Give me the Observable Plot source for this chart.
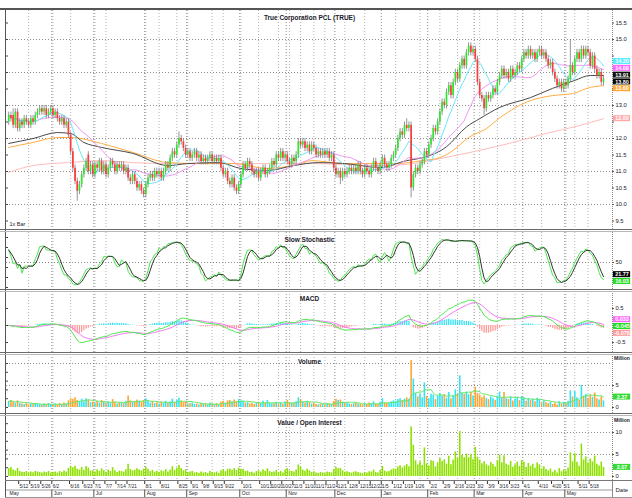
<!DOCTYPE html>
<html><head><meta charset="utf-8">
<script src="https://cdn.jsdelivr.net/npm/d3@7"></script>
<script src="https://cdn.jsdelivr.net/npm/@observablehq/plot@0.6"></script>
<style>
html,body{margin:0;padding:0;background:#fff;}
#chart{position:relative;width:632px;height:498px;overflow:hidden;background:#fff;}
#chart svg{position:absolute;left:0;overflow:visible;}
.ln{position:absolute;}
</style></head><body><div id="chart"></div>
<script>
// ---------- DATA ----------
const title = "True Corporation PCL (TRUE)";
// daily candles [open, high, low, close]
const ohlc = [
[12.5,12.8,12.4,12.7],[12.7,12.8,12.5,12.6],[12.7,12.9,12.3,12.4],[12.4,12.9,12.3,12.8],[12.8,12.9,12.2,12.3],
[12.3,12.6,12.2,12.5],[12.5,12.6,12.3,12.4],[12.4,12.7,12.3,12.6],[12.6,12.7,12.4,12.5],[12.5,12.6,12.3,12.4],
[12.4,12.7,12.3,12.6],[12.6,12.7,12.4,12.5],[12.5,12.8,12.4,12.7],[12.7,12.9,12.6,12.8],[12.8,13.0,12.7,12.9],
[12.9,13.0,12.7,12.8],[12.8,13.0,12.7,12.9],[12.9,13.0,12.6,12.7],[12.7,12.9,12.6,12.8],[12.8,13.0,12.7,12.9],
[12.9,13.0,12.6,12.7],[12.7,12.9,12.6,12.8],[12.8,12.9,12.5,12.6],[12.6,12.7,12.4,12.5],[12.5,12.7,12.4,12.6],
[12.6,12.7,12.3,12.4],[12.4,12.6,12.3,12.5],[12.5,12.6,12.0,12.1],[12.1,12.2,11.5,11.6],[11.6,11.7,11.0,11.1],
[11.1,11.2,10.6,10.7],[10.7,10.8,10.1,10.4],[10.4,10.7,10.3,10.6],[10.6,11.0,10.5,10.9],[10.9,11.2,10.8,11.1],
[11.1,11.4,11.0,11.3],[11.5,11.6,10.9,11.0],[11.0,11.3,10.9,11.2],[11.2,11.3,10.8,10.9],[10.9,11.3,10.8,11.2],
[11.2,11.3,11.0,11.1],[11.1,11.4,11.0,11.3],[11.3,11.4,10.9,11.0],[11.0,11.3,10.9,11.2],[11.2,11.3,10.8,10.9],
[10.9,11.2,10.8,11.1],[11.1,11.4,11.0,11.3],[11.3,11.4,11.1,11.2],[11.2,11.3,10.9,11.0],[11.0,11.3,10.9,11.2],
[11.2,11.3,11.0,11.1],[11.1,11.3,11.0,11.2],[11.2,11.3,10.9,11.0],[11.0,11.2,10.9,11.1],[11.1,11.2,10.7,10.8],
[10.8,10.9,10.6,10.7],[10.7,11.0,10.6,10.9],[10.9,11.0,10.6,10.7],[10.7,10.8,10.4,10.5],[10.5,10.7,10.4,10.6],
[10.6,10.7,10.3,10.4],[10.4,10.5,10.2,10.3],[10.3,10.7,10.2,10.6],[10.6,10.9,10.5,10.8],[10.8,11.0,10.7,10.9],
[10.9,11.0,10.7,10.8],[10.8,11.1,10.7,11.0],[11.0,11.1,10.8,10.9],[10.9,11.1,10.8,11.0],[11.0,11.1,10.7,10.8],
[10.8,11.1,10.7,11.0],[11.0,11.3,10.9,11.2],[11.2,11.3,11.0,11.1],[11.1,11.5,11.0,11.4],[11.4,11.7,11.3,11.6],
[11.6,11.7,11.4,11.5],[11.5,11.9,11.4,11.8],[11.8,12.2,11.7,12.0],[12.0,12.1,11.8,11.9],[11.9,12.0,11.6,11.7],
[11.7,11.8,11.4,11.5],[11.5,11.7,11.4,11.6],[11.6,11.7,11.3,11.4],[11.4,11.6,11.3,11.5],[11.5,11.7,11.4,11.6],
[11.6,11.7,11.3,11.4],[11.4,11.6,11.3,11.5],[11.5,11.6,11.2,11.3],[11.3,11.5,11.2,11.4],[11.4,11.5,11.2,11.3],
[11.3,11.5,11.2,11.4],[11.4,11.6,11.3,11.5],[11.5,11.6,11.2,11.3],[11.3,11.5,11.2,11.4],[11.4,11.5,11.2,11.3],
[11.3,11.5,11.2,11.4],[11.4,11.5,11.0,11.1],[11.1,11.2,10.8,10.9],[10.9,11.1,10.8,11.0],[11.0,11.1,10.6,10.7],
[10.7,10.8,10.5,10.6],[10.6,10.9,10.5,10.8],[10.8,10.9,10.4,10.5],[10.5,10.6,10.3,10.4],[10.4,10.7,10.3,10.6],
[10.6,11.0,10.5,10.9],[10.9,11.3,10.8,11.2],[11.2,11.3,11.0,11.1],[11.1,11.4,11.0,11.3],[11.3,11.4,11.1,11.2],
[11.2,11.3,10.9,11.0],[11.0,11.1,10.8,10.9],[10.9,11.1,10.8,11.0],[11.0,11.1,10.7,10.8],[10.8,11.1,10.7,11.0],
[11.0,11.2,10.9,11.1],[11.1,11.2,10.8,10.9],[10.9,11.1,10.8,11.0],[11.0,11.2,10.9,11.1],[11.1,11.4,11.0,11.3],
[11.3,11.4,11.1,11.2],[11.2,11.6,11.1,11.5],[11.5,11.6,11.3,11.4],[11.4,11.7,11.3,11.6],[11.6,11.7,11.3,11.4],
[11.4,11.6,11.3,11.5],[11.5,11.6,11.2,11.3],[11.3,11.4,11.1,11.2],[11.2,11.5,11.1,11.4],[11.4,11.5,11.2,11.3],
[11.3,11.6,11.2,11.5],[11.5,12.0,11.4,11.9],[11.9,12.0,11.7,11.8],[11.8,12.0,11.7,11.9],[11.9,12.0,11.6,11.7],
[11.7,11.9,11.6,11.8],[11.8,11.9,11.5,11.6],[11.6,11.9,11.5,11.8],[11.8,11.9,11.6,11.7],[11.7,11.8,11.4,11.5],
[11.5,11.7,11.4,11.6],[11.6,11.7,11.4,11.5],[11.5,11.7,11.4,11.6],[11.6,11.7,11.4,11.5],[11.5,11.7,11.4,11.6],
[11.6,11.7,11.3,11.4],[11.4,11.6,11.3,11.5],[11.5,11.6,11.0,11.1],[11.1,11.2,10.8,10.9],[10.9,11.1,10.8,11.0],
[11.0,11.1,10.6,10.8],[10.8,11.1,10.7,11.0],[11.0,11.1,10.8,10.9],[10.9,11.1,10.8,11.0],[11.0,11.2,10.9,11.1],
[11.1,11.2,10.9,11.0],[11.0,11.2,10.9,11.1],[11.1,11.2,10.9,11.0],[11.0,11.3,10.9,11.2],[11.2,11.3,10.9,11.0],
[11.0,11.1,10.8,10.9],[10.9,11.2,10.8,11.1],[11.1,11.2,10.9,11.0],[11.0,11.1,10.8,10.9],[10.9,11.2,10.8,11.1],
[11.1,11.4,11.0,11.3],[11.3,11.4,11.0,11.1],[11.1,11.2,10.9,11.0],[11.0,11.3,10.9,11.2],[11.2,11.5,11.1,11.4],
[11.4,11.5,11.1,11.2],[11.2,11.3,11.0,11.1],[11.1,11.3,11.0,11.2],[11.2,11.5,11.1,11.4],[11.4,11.6,11.3,11.5],
[11.5,11.8,11.4,11.7],[11.7,12.1,11.6,12.0],[12.0,12.3,11.9,12.2],[12.2,12.3,12.0,12.1],[12.1,12.5,12.0,12.4],
[12.4,12.6,12.2,12.3],[12.3,12.5,12.2,12.4],[12.4,12.5,10.2,10.5],[10.5,11.0,10.4,10.9],[10.9,11.2,10.8,11.1],
[11.1,11.2,10.9,11.0],[11.0,11.3,10.9,11.2],[11.2,11.4,11.1,11.3],[11.3,11.7,11.2,11.6],[11.6,11.7,11.4,11.5],
[11.5,11.9,11.4,11.8],[11.8,12.1,11.7,12.0],[12.0,12.4,11.9,12.3],[12.3,12.4,12.1,12.2],[12.2,12.6,12.1,12.5],
[12.5,12.9,12.4,12.8],[12.8,13.2,12.7,13.1],[13.1,13.2,12.9,13.0],[13.0,13.5,12.9,13.4],[13.4,13.7,13.3,13.6],
[13.6,13.7,13.2,13.3],[13.3,13.8,13.2,13.7],[13.7,14.1,13.6,14.0],[14.0,14.1,13.7,13.8],[13.8,14.3,13.7,14.2],
[14.2,14.5,14.1,14.4],[14.4,14.5,14.1,14.2],[14.2,14.7,14.1,14.6],[14.6,14.9,14.5,14.8],[14.8,14.9,14.5,14.6],
[14.6,14.8,14.5,14.7],[14.7,14.8,14.3,14.4],[14.4,14.5,13.6,13.7],[13.7,13.8,13.2,13.3],[13.3,13.4,13.1,13.2],
[13.2,13.3,12.7,12.9],[12.9,13.4,12.8,13.3],[13.3,13.4,13.1,13.2],[13.2,13.4,13.1,13.3],[13.3,13.6,13.2,13.5],
[13.5,13.6,13.3,13.4],[13.4,13.8,13.3,13.7],[13.7,14.0,13.6,13.9],[13.9,14.2,13.8,14.1],[14.1,14.2,13.8,13.9],
[13.9,14.1,13.8,14.0],[14.0,14.1,13.7,13.8],[13.8,14.2,13.7,14.1],[14.1,14.2,13.8,13.9],[13.9,14.1,13.8,14.0],
[14.0,14.3,13.9,14.2],[14.2,14.3,14.0,14.1],[14.1,14.5,14.0,14.4],[14.4,14.7,14.3,14.6],[14.6,14.7,14.4,14.5],
[14.5,14.8,14.4,14.7],[14.7,14.8,14.4,14.5],[14.5,14.7,14.4,14.6],[14.6,14.7,14.3,14.4],[14.4,14.7,14.3,14.6],
[14.6,14.8,14.5,14.7],[14.7,14.8,14.4,14.5],[14.5,14.7,14.4,14.6],[14.6,14.7,14.3,14.4],[14.4,14.5,14.1,14.2],
[14.2,14.4,14.1,14.3],[14.3,14.4,13.9,14.0],[14.0,14.1,13.7,13.8],[13.8,13.9,13.5,13.6],[13.6,13.8,13.5,13.7],
[13.7,13.8,13.4,13.5],[13.5,13.8,13.4,13.7],[13.7,13.8,13.5,13.6],[13.6,13.9,13.5,13.8],[13.8,15.0,13.7,14.2],
[14.2,14.3,13.9,14.0],[14.0,14.5,13.9,14.4],[14.4,14.7,14.3,14.6],[14.6,14.7,14.3,14.4],[14.4,14.8,14.3,14.7],
[14.7,14.8,14.4,14.5],[14.5,14.8,14.4,14.7],[14.7,14.8,14.5,14.6],[14.6,14.7,14.1,14.2],[14.2,14.6,14.1,14.5],
[14.5,14.6,14.0,14.1],[14.1,14.2,13.8,13.9],[13.9,14.1,13.8,14.0],[14.0,14.1,13.6,13.7],[13.7,13.9,13.6,13.8]
];
// daily volume, million shares
const volume = [
1.4,1.6,1.2,1.0,1.5,0.9,0.8,0.7,0.9,0.6, 0.8,0.7,0.9,0.8,0.7,0.6,0.8,0.7,0.9,0.6,
0.7,0.8,0.6,0.9,0.7,1.0,0.8,1.5,2.0,1.8, 2.2,1.6,1.4,1.9,1.3,2.0,1.7,1.1,1.2,0.9,
1.4,1.0,1.6,1.2,0.9,1.3,1.0,1.8,1.2,0.8, 1.1,1.0,0.9,1.4,2.6,1.5,1.2,1.3,1.7,1.4,
1.2,1.6,2.0,1.5,1.0,1.3,0.9,1.1,0.8,1.2, 1.0,1.4,0.9,1.3,1.9,1.2,1.6,2.1,1.5,1.1,
1.3,0.8,0.9,1.0,0.7,0.8,0.6,0.9,0.7,0.8, 0.6,1.0,0.8,0.7,0.9,0.6,1.2,1.4,1.0,1.5,
1.6,1.3,1.7,1.3,1.8,1.5,1.4,1.0,1.1,0.8, 0.9,0.7,1.0,1.2,0.9,1.4,1.1,1.6,1.0,0.8,
0.9,1.2,0.8,1.0,0.7,1.3,1.6,1.1,1.0,0.9, 1.3,2.2,1.8,1.2,1.0,1.4,1.1,0.8,0.9,0.7,
0.6,0.8,0.7,0.6,0.9,0.8,0.7,1.4,1.9,1.6, 1.7,1.2,0.9,1.0,0.8,0.7,0.9,1.0,0.8,0.7,
0.6,0.8,0.7,1.0,0.9,1.3,0.8,0.7,1.2,2.0, 1.1,0.9,1.0,1.3,1.5,1.4,1.8,2.0,1.6,1.9,
2.2,1.8,10.7,6.5,3.2,2.4,3.0,2.2,5.6,2.5, 2.0,3.0,2.8,1.8,2.5,3.2,2.6,2.9,2.1,3.4,
2.0,2.7,4.0,3.0,7.2,3.3,3.0,3.5,2.9,3.4, 2.6,4.6,3.2,2.8,2.2,2.6,2.0,1.8,2.4,2.0,
1.6,2.6,3.5,2.2,3.4,2.0,1.8,2.4,1.5,1.9, 2.3,1.6,2.5,2.2,1.4,2.0,1.6,1.9,1.3,2.1,
1.8,1.2,1.5,1.1,0.9,1.2,0.7,1.0,0.6,1.3, 0.8,1.1,0.9,1.4,3.8,2.4,3.6,2.2,1.6,5.0,
2.6,3.0,2.1,2.8,2.3,3.3,2.0,1.7,2.4,1.5
];
// long moving averages (bar index, price)
const ma50Idx = [0,11,22,28,34,42,56,72,81,95,105,117,129,140,152,168,180,186,198,207,213,222,236,246,256,263,269];
const ma50Val = [11.85,12.0,12.18,12.15,11.88,11.73,11.55,11.18,11.24,11.27,11.09,11.03,11.18,11.27,11.24,11.12,11.33,11.4,11.75,12.35,12.6,12.94,13.24,13.52,13.76,13.91,13.91];
const ma75Idx = [0,11,22,28,42,56,72,87,102,117,132,137,152,175,187,195,201,208,216,222,236,246,255,263,269];
const ma75Val = [11.73,11.88,12.03,12.03,11.85,11.58,11.27,11.24,11.24,11.09,11.24,11.33,11.24,11.24,11.33,11.42,11.64,12.03,12.3,12.62,13.15,13.3,13.36,13.55,13.6];
const ma200Idx = [0,11,27,42,56,72,102,132,137,168,183,195,213,228,243,258,269];
const ma200Val = [10.97,11.18,11.27,11.33,11.27,11.24,11.24,11.24,11.24,11.18,11.24,11.39,11.64,11.88,12.15,12.39,12.6];
// axis labels and grid positions (bar index)
const tickIdx = [5,10,15,20,28,34,39,44,49,54,62,69,77,83,88,93,98,106,114,119,124,129,134,139,144,149,154,159,164,169,174,179,184,191,197,202,207,212,217,222,227,233,240,246,251,258,263];
const tickLabels = ["5/12","5/19","5/26","6/2","6/16","6/23","7/1","7/7","7/14","7/21","8/1","8/11","8/25","9/1","9/8","9/15","9/22","10/1","10/13","10/20","10/27","11/3","11/10","11/17","11/24","12/1","12/8","12/15","12/22","1/5","1/12","1/19","1/26","2/2","2/9","2/16","2/23","3/2","3/9","3/16","3/23","4/1","4/10","4/20","5/1","5/11","5/18"];
const gridIdx = [9,20,28,39,44,62,68,76,81,92,97,105,113,122,127,132,138,143,152,161,175,186,195,203,213,221,229,241,252,256,262];
const monthIdx = [0,20,39,62,81,105,126,148,169,190,211,233,252];
const monthLabels = ["May","Jun","Jul","Aug","Sep","Oct","Nov","Dec","Jan","Feb","Mar","Apr","May"];
const priceTicks = [9.5,10,10.5,11,11.5,12,12.5,13,13.5,14,14.5,15,15.5];
const priceGrid = [10,11,12,13,14,15];

// ---------- INDICATORS (standard definitions) ----------
const N = ohlc.length;
const bars = ohlc.map(([o,h,l,c],i)=>({i,o,h,l,c,up:c>=o,v:volume[i]}));
const closes = bars.map(d=>d.c);
function sma(a,n){return a.map((_,i)=>{const s=Math.max(0,i-n+1);let t=0;for(let k=s;k<=i;k++)t+=a[k];return t/(i-s+1);});}
function ema(a,n){const al=2/(n+1),o=[];a.forEach((v,i)=>o.push(i?o[i-1]+al*(v-o[i-1]):v));return o;}
const ma10 = sma(closes,10), ma25 = sma(closes,25);
const rawK = bars.map((d,i)=>{const s=Math.max(0,i-13);let hh=-1e9,ll=1e9;for(let k=s;k<=i;k++){hh=Math.max(hh,bars[k].h);ll=Math.min(ll,bars[k].l);}return hh>ll?100*(d.c-ll)/(hh-ll):50;});
const slowK = sma(rawK,3), slowD = sma(slowK,3);
const e12 = ema(closes,12), e26 = ema(closes,26);
const macd = e12.map((v,i)=>v-e26[i]);
const signal = ema(macd,9);
const hist = macd.map((v,i)=>v-signal[i]);
const volMA = sma(volume,10);
const tradeValue = bars.map(d=>d.v*d.c/10);

// ---------- LAYOUT ----------
const FONT = "'Liberation Sans Narrow','Liberation Sans', Arial, sans-serif";
const xDomain = [-1, 273.07];
const XR = 273.07;
const chart = document.getElementById("chart");
const C = {up:"#2ee62e", down:"#ff3b3b", wick:"#7a7a7a", cyan:"#6ae6fa", mag:"#f394f3", blk:"#4a4a4a", org:"#ffad42", pink:"#ffbcbc",
  grid:"#b4b4b4", volUp:"#33e3f2", volDn:"#ffa432", volMA:"#66e866", val:"#8ee000", salmon:"#ff9c9c", sgreen:"#4ce84c", text:"#1a1a2a"};

function vgrid(){
  return [
    Plot.ruleX(gridIdx, {stroke:C.grid, strokeDasharray:"1,2", strokeWidth:1}),
    Plot.ruleX(monthIdx.slice(1).map(t=>t-0.5), {stroke:"#8a8a8a", strokeDasharray:"1,2", strokeWidth:1}),
    Plot.ruleX([XR], {stroke:"#8a8a8a", strokeDasharray:"1,1", strokeWidth:1})
  ];
}
const BH = 6.8;
function layoutBoxes(items, yDomain, height){
  const sc = d3.scaleLinear().domain(yDomain).range([height,0]);
  items.forEach(d=>d.py=sc(d.v));
  items.sort((a,b)=>a.py-b.py);
  let groups = items.map(d=>({ds:[d], c:d.py}));
  let merged = true;
  while(merged){merged=false;
    for(let k=1;k<groups.length;k++){const a=groups[k-1],b=groups[k];
      if(b.c-b.ds.length*BH/2 < a.c+a.ds.length*BH/2){const ds=a.ds.concat(b.ds);groups.splice(k-1,2,{ds,c:d3.mean(ds,d=>d.py)});merged=true;break;}}}
  groups.forEach(g=>g.ds.forEach((d,j)=>{const by=g.c-g.ds.length*BH/2+BH/2+j*BH; d.by=by; d.y=sc.invert(by); d.y1=sc.invert(by-BH/2+0.4); d.y2=sc.invert(by+BH/2-0.4);}));
  return {items, sc};
}
function boxMarks(L){
  return [
    Plot.rect(L.items,{x1:XR+0.4,x2:XR+8.2,y1:"y1",y2:"y2",fill:"fill"}),
    Plot.text(L.items,{x:XR+4.3,y:"y",text:"label",fill:"tf",fontSize:5.5,fontWeight:"bold"})
  ];
}
function freeTicks(vals, L){ return vals.filter(v=>{const p=L.sc(v); return !L.items.some(d=>Math.abs(d.by-p)<BH/2+3.2);}); }
function titleMark(t){ return Plot.text([t],{frameAnchor:"top",dy:5,fontSize:6.5,fontWeight:"bold",fill:C.text}); }
function rightLabels(vals, labelVals, fmt){
  return [
    Plot.ruleY(vals,{x1:XR,x2:XR+0.9,stroke:"#555"}),
    Plot.text(labelVals,{x:XR,y:d=>d,dx:3,text:fmt,textAnchor:"start",fontSize:5.8,fill:C.text})
  ];
}
function leftTicks(vals){ return Plot.ruleY(vals,{x1:-1,x2:-0.1,stroke:"#444"}); }
function panel(top,height,yDomain,marks){
  const svg = Plot.plot({width:632,height,marginLeft:6,marginRight:20,marginTop:0,marginBottom:0,
    x:{domain:xDomain,axis:null}, y:{domain:yDomain,axis:null}, color:{type:"identity"},
    style:{fontFamily:FONT,fontSize:"6px",overflow:"visible",background:"transparent"}, marks});
  svg.style.top = top+"px"; svg.style.position="absolute";
  chart.appendChild(svg);
}
function line(x,y,w,h,color){const d=document.createElement("div");d.className="ln";Object.assign(d.style,{left:x+"px",top:y+"px",width:w+"px",height:h+"px",background:color});chart.appendChild(d);}

// ---------- PRICE PANEL ----------
const priceDom = [9.242,15.879];
const lastClose = closes[N-1];
const priceBoxes = layoutBoxes([
  {v:ma25[N-1],fill:"#ff66ff",tf:"#fff",label:ma25[N-1].toFixed(2)},
  {v:ma10[N-1],fill:"#55ecff",tf:"#fff",label:ma10[N-1].toFixed(2)},
  {v:ma50Val[ma50Val.length-1],fill:"#111",tf:"#fff",label:ma50Val[ma50Val.length-1].toFixed(2)},
  {v:lastClose,fill:"#000",tf:"#fff",label:lastClose.toFixed(2)},
  {v:ma75Val[ma75Val.length-1],fill:"#ffa630",tf:"#fff",label:ma75Val[ma75Val.length-1].toFixed(2)},
  {v:ma200Val[ma200Val.length-1],fill:"#ffa8a8",tf:"#fff",label:ma200Val[ma200Val.length-1].toFixed(2)}
],priceDom,219);
panel(10,219,priceDom,[
  Plot.ruleY(priceGrid,{stroke:"#8c8c8c",strokeDasharray:"1,2"}),
  ...vgrid(),
  Plot.line(ma200Idx.map((x,k)=>({x,y:ma200Val[k]})),{x:"x",y:"y",stroke:C.pink,strokeWidth:1,curve:"monotone-x"}),
  Plot.line(ma75Idx.map((x,k)=>({x,y:ma75Val[k]})),{x:"x",y:"y",stroke:C.org,strokeWidth:1,curve:"monotone-x"}),
  Plot.line(ma50Idx.map((x,k)=>({x,y:ma50Val[k]})),{x:"x",y:"y",stroke:C.blk,strokeWidth:1,curve:"monotone-x"}),
  Plot.line(bars,{x:"i",y:(d,i)=>ma25[i],stroke:C.mag,strokeWidth:1}),
  Plot.line(bars,{x:"i",y:(d,i)=>ma10[i],stroke:C.cyan,strokeWidth:1}),
  Plot.ruleX(bars,{x:"i",y1:"l",y2:"h",stroke:C.wick,strokeWidth:0.8}),
  Plot.ruleX(bars,{x:"i",y1:"o",y2:"c",stroke:d=>d.up?C.up:C.down,strokeWidth:1.7}),
  titleMark(title),
  Plot.text(["1x Bar"],{frameAnchor:"bottom-left",dx:3,dy:-4,fontSize:5.5,textAnchor:"start",fill:C.text}),
  leftTicks(priceTicks),
  ...rightLabels(priceTicks,freeTicks(priceTicks,priceBoxes),d=>d.toFixed(1)),
  ...boxMarks(priceBoxes)
]);

// ---------- SLOW STOCHASTIC ----------
const stDom = [-4,110];
const stBoxes = layoutBoxes([
  {v:slowD[N-1],fill:"#000",tf:"#fff",label:slowD[N-1].toFixed(2)},
  {v:slowK[N-1],fill:"#22dd22",tf:"#fff",label:slowK[N-1].toFixed(2)}
],stDom,57);
panel(232,57,stDom,[
  Plot.ruleY([50],{stroke:"#8c8c8c",strokeDasharray:"1,2"}),
  ...vgrid(),
  Plot.line(bars,{x:"i",y:(d,i)=>slowK[i],stroke:C.sgreen,strokeWidth:1}),
  Plot.line(bars,{x:"i",y:(d,i)=>slowD[i],stroke:"#333",strokeWidth:1}),
  titleMark("Slow Stochastic"),
  leftTicks([0,20,40,60,80,100]),
  ...rightLabels([50],freeTicks([50],stBoxes),d=>String(d)),
  ...boxMarks(stBoxes)
]);

// ---------- MACD ----------
const mDom = [-0.794,1.0];
const mBoxes = layoutBoxes([
  {v:signal[N-1],fill:"#ff66ff",tf:"#fff",label:signal[N-1].toFixed(3)},
  {v:hist[N-1],fill:"#ff9a9a",tf:"#fff",label:hist[N-1].toFixed(3)},
  {v:macd[N-1],fill:"#22dd22",tf:"#fff",label:macd[N-1].toFixed(3)}
],mDom,61);
panel(291,61,mDom,[
  ...vgrid(),
  Plot.ruleX(bars,{x:"i",y1:0,y2:(d,i)=>hist[i],stroke:(d,i)=>hist[i]>=0?C.volUp:C.salmon,strokeWidth:1.3}),
  Plot.line(bars,{x:"i",y:(d,i)=>signal[i],stroke:"#f27af2",strokeWidth:1}),
  Plot.line(bars,{x:"i",y:(d,i)=>macd[i],stroke:C.sgreen,strokeWidth:1}),
  titleMark("MACD"),
  leftTicks([-0.5,0,0.5]),
  ...rightLabels([0.5,-0.5],freeTicks([0.5,-0.5],mBoxes),d=>d.toFixed(1)),
  ...boxMarks(mBoxes)
]);

// ---------- VOLUME ----------
const vDom = [-1.36,12.05];
const vBoxes = layoutBoxes([{v:volMA[N-1],fill:"#33dd33",tf:"#fff",label:volMA[N-1].toFixed(2)}],vDom,59);
panel(354,59,vDom,[
  Plot.ruleY([5,10],{stroke:"#8c8c8c",strokeDasharray:"1,2"}),
  ...vgrid(),
  Plot.ruleX(bars,{x:"i",y1:0,y2:"v",stroke:d=>d.up?C.volUp:C.volDn,strokeWidth:1.6}),
  Plot.line(bars,{x:"i",y:(d,i)=>volMA[i],stroke:C.volMA,strokeWidth:1}),
  titleMark("Volume"),
  leftTicks([0,2,4,6,8,10]),
  ...rightLabels([5,0],freeTicks([5,0],vBoxes),d=>String(d)),
  Plot.text(["Million"],{x:XR,y:11.1,dx:1.5,textAnchor:"start",fontSize:5,fontWeight:"bold",fill:C.text}),
  ...boxMarks(vBoxes)
]);

// ---------- VALUE / OPEN INTEREST ----------
const valDom = [-0.91,13.86];
const valBoxes = layoutBoxes([{v:tradeValue[N-1],fill:"#33dd33",tf:"#fff",label:tradeValue[N-1].toFixed(2)}],valDom,65);
panel(415,65,valDom,[
  Plot.ruleY([5,10],{stroke:"#8c8c8c",strokeDasharray:"1,2"}),
  ...vgrid(),
  Plot.ruleX(bars,{x:"i",y1:0,y2:(d,i)=>tradeValue[i],stroke:C.val,strokeWidth:1.6}),
  titleMark("Value / Open Interest"),
  leftTicks([0,2,4,6,8,10,12]),
  ...rightLabels([10,5,0],freeTicks([10,5,0],valBoxes),d=>String(d)),
  Plot.text(["Million"],{x:XR,y:12.8,dx:1.5,textAnchor:"start",fontSize:5,fontWeight:"bold",fill:C.text}),
  ...boxMarks(valBoxes)
]);

// ---------- DATE AXIS ----------
{
  const svg = Plot.plot({width:632,height:18,marginLeft:6,marginRight:20,marginTop:0,marginBottom:0,
    x:{domain:xDomain,axis:null}, y:{domain:[0,18],range:[0,18],axis:null},
    style:{fontFamily:FONT,fontSize:"5px",overflow:"visible",background:"transparent"},
    marks:[
      Plot.ruleX(tickIdx.map(t=>t-0.5),{y1:0,y2:4,stroke:"#333"}),
      Plot.text(tickIdx,{x:d=>d-0.5,y:5.8,dx:0.8,text:(d,k)=>tickLabels[k],textAnchor:"start",fontSize:4.6,fill:C.text}),
      Plot.ruleY([9.5],{x1:-1,x2:XR,stroke:"#999"}),
      Plot.ruleX(monthIdx.slice(1).map(t=>t-0.5),{y1:9.5,y2:17,stroke:"#555"}),
      Plot.text(monthIdx,{x:d=>d-0.5,y:13.3,dx:2,text:(d,k)=>monthLabels[k],textAnchor:"start",fontSize:5,fill:C.text}),
      Plot.ruleX([XR],{y1:0,y2:18,stroke:"#8a8a8a"}),
      Plot.text(["Date"],{x:XR,y:10,dx:3,textAnchor:"start",fontSize:6,fill:C.text})
    ]});
  svg.style.top="480px"; svg.style.position="absolute";
  chart.appendChild(svg);
}

// frame lines
line(0,8,632,1.5,"#555");
line(5,8,1,489,"#555");
[229,289,352,413].forEach(y=>{line(0,y,632,1,"#6b6b6b");line(0,y+1.5,632,1,"#b8b8b8");});
line(5,480,627,1,"#777");
line(5,496.5,627,1,"#999");
</script>
</body></html>
